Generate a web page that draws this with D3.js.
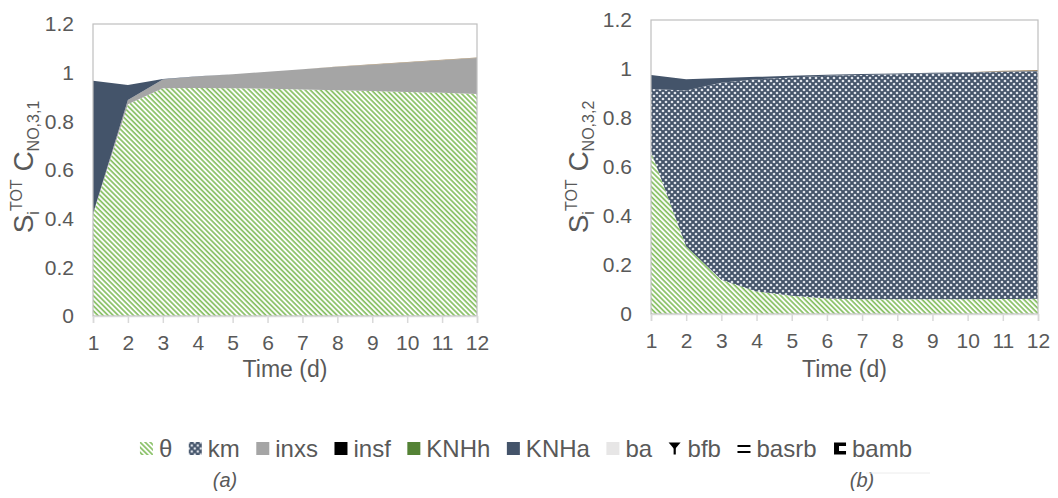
<!DOCTYPE html>
<html>
<head>
<meta charset="utf-8">
<script src="https://cdn.jsdelivr.net/npm/d3@7"></script>
<style>
  body { margin: 0; background: #fff; }
  text { font-family: Arial, "Liberation Sans", sans-serif; fill: #595959; }
</style>
</head>
<body>
<svg id="chart" width="1058" height="498"></svg>
<script>
// time axis (days)
var days = [1, 2, 3, 4, 5, 6, 7, 8, 9, 10, 11, 12];
var yTicks = [0, 0.2, 0.4, 0.6, 0.8, 1, 1.2];
var seriesKeys = ["θ", "km", "inxs", "insf", "KNHh", "KNHa", "ba", "bfb", "basrb", "bamb"];

// panel (a) : C NO,3,1
var a_theta = [0.42, 0.87, 0.936, 0.937, 0.936, 0.934, 0.931, 0.928, 0.925, 0.921, 0.917, 0.912];
var a_km    = [0, 0, 0, 0, 0, 0, 0, 0, 0, 0, 0, 0];
var a_inxs  = [0, 0.018, 0.036, 0.047, 0.058, 0.070, 0.083, 0.096, 0.108, 0.121, 0.134, 0.148];
var a_insf  = [0, 0, 0, 0, 0, 0, 0, 0, 0, 0, 0, 0];
var a_KNHh  = [0, 0, 0, 0, 0, 0, 0, 0, 0, 0, 0, 0];
var a_KNHa  = [0.547, 0.061, 0.002, 0.001, 0, 0, 0, 0, 0, 0, 0, 0];
var a_ba    = [0, 0, 0, 0, 0, 0, 0, 0, 0, 0, 0, 0];
var a_bfb   = [0, 0, 0, 0, 0, 0, 0, 0, 0, 0, 0, 0];
var a_basrb = [0, 0, 0, 0, 0, 0, 0, 0, 0, 0, 0, 0];
var a_bamb  = [0, 0, 0, 0, 0, 0, 0, 0.001, 0.002, 0.002, 0.002, 0.002];

// panel (b) : C NO,3,2
var b_theta = [0.663, 0.276, 0.14, 0.092, 0.075, 0.063, 0.06, 0.06, 0.06, 0.06, 0.061, 0.062];
var b_km    = [0.255, 0.636, 0.804, 0.866, 0.89, 0.909, 0.916, 0.919, 0.922, 0.925, 0.927, 0.928];
var b_inxs  = [0, 0, 0, 0, 0, 0, 0, 0, 0, 0, 0, 0];
var b_insf  = [0, 0, 0, 0, 0, 0, 0, 0, 0, 0, 0, 0];
var b_KNHh  = [0, 0, 0, 0, 0, 0, 0, 0, 0, 0, 0, 0];
var b_KNHa  = [0.058, 0.046, 0.019, 0.01, 0.007, 0.005, 0.004, 0.003, 0.003, 0.002, 0.002, 0.002];
var b_ba    = [0, 0, 0, 0, 0, 0, 0, 0, 0, 0, 0, 0];
var b_bfb   = [0, 0, 0, 0, 0, 0, 0, 0, 0, 0, 0, 0];
var b_basrb = [0, 0, 0, 0, 0, 0, 0, 0, 0, 0, 0, 0];
var b_bamb  = [0, 0, 0, 0, 0, 0, 0, 0, 0, 0, 0.003, 0.004];

function buildRows(cols) {
  return days.map(function(d, i) {
    var row = { day: d };
    seriesKeys.forEach(function(k, j) { row[k] = cols[j][i]; });
    return row;
  });
}

var dataA = buildRows([a_theta, a_km, a_inxs, a_insf, a_KNHh, a_KNHa, a_ba, a_bfb, a_basrb, a_bamb]);
var dataB = buildRows([b_theta, b_km, b_inxs, b_insf, b_KNHh, b_KNHa, b_ba, b_bfb, b_basrb, b_bamb]);

var svg = d3.select("#chart");
var defs = svg.append("defs");

// θ : green diagonal hatch
var ph = defs.append("pattern")
  .attr("id", "hatchTheta")
  .attr("patternUnits", "userSpaceOnUse")
  .attr("width", 3.6).attr("height", 3.6)
  .attr("patternTransform", "rotate(-45)");
ph.append("rect").attr("width", 3.6).attr("height", 3.6).attr("fill", "#fff");
ph.append("line").attr("x1", 1).attr("y1", 0).attr("x2", 1).attr("y2", 3.6)
  .attr("stroke", "#86bf62").attr("stroke-width", 1.7);

// km : dark blue with light dotted crosses
var pk = defs.append("pattern")
  .attr("id", "dotKm")
  .attr("patternUnits", "userSpaceOnUse")
  .attr("width", 6).attr("height", 6);
pk.append("rect").attr("width", 6).attr("height", 6).attr("fill", "#44546a");
[[0, 0], [6, 0], [0, 6], [6, 6], [3, 3]].forEach(function(p) {
  pk.append("circle").attr("cx", p[0]).attr("cy", p[1]).attr("r", 1.35).attr("fill", "#dfe3ea");
});

var fills = {
  "θ": "url(#hatchTheta)",
  "km": "url(#dotKm)",
  "inxs": "#a5a5a5",
  "insf": "#000000",
  "KNHh": "#548235",
  "KNHa": "#44546a",
  "ba": "#e7e6e6",
  "bfb": "#262626",
  "basrb": "#404040",
  "bamb": "#9c8462"
};

var stack = d3.stack().keys(seriesKeys);

function drawPanel(data, box, titleSub, titleX, label, labelX) {
  var x = d3.scaleLinear().domain([1, 12]).range([box.left, box.right]);
  var y = d3.scaleLinear().domain([0, 1.2]).range([box.bottom, box.top]);
  var g = svg.append("g");

  var area = d3.area()
    .x(function(d) { return x(d.data.day); })
    .y0(function(d) { return y(d[0]); })
    .y1(function(d) { return y(d[1]); });

  g.selectAll("path.layer")
    .data(stack(data))
    .enter()
    .append("path")
    .attr("class", "layer")
    .attr("d", area)
    .attr("fill", function(d) { return fills[d.key]; });

  // plot border
  g.append("rect")
    .attr("x", box.left).attr("y", box.top)
    .attr("width", box.right - box.left).attr("height", box.bottom - box.top)
    .attr("fill", "none").attr("stroke", "#bfbfbf").attr("stroke-width", 1.2);

  var xAxis = g.append("g")
    .attr("transform", "translate(0," + box.bottom + ")")
    .call(d3.axisBottom(x).tickValues(days).tickSize(7).tickPadding(12).tickFormat(d3.format("d")));
  xAxis.select(".domain").attr("stroke", "#d9d9d9").attr("stroke-width", 1.5);
  xAxis.selectAll(".tick line").attr("stroke", "#d9d9d9").attr("stroke-width", 1.5);
  xAxis.selectAll(".tick text").attr("font-size", 21).attr("fill", "#595959")
    .attr("font-family", "Arial, 'Liberation Sans', sans-serif");

  var yAxis = g.append("g")
    .attr("transform", "translate(" + box.left + ",0)")
    .call(d3.axisLeft(y).tickValues(yTicks).tickSize(0).tickPadding(19).tickFormat(d3.format("~g")));
  yAxis.select(".domain").remove();
  yAxis.selectAll(".tick text").attr("font-size", 21).attr("fill", "#595959")
    .attr("font-family", "Arial, 'Liberation Sans', sans-serif");

  // x title
  g.append("text")
    .attr("x", (box.left + box.right) / 2).attr("y", 377)
    .attr("text-anchor", "middle").attr("font-size", 23)
    .text("Time (d)");

  // y title
  var t = g.append("text")
    .attr("transform", "translate(" + titleX + ",167) rotate(-90)")
    .attr("text-anchor", "middle").attr("font-size", 28);
  t.append("tspan").text("S");
  t.append("tspan").attr("font-size", 16).attr("dy", 6).text("i");
  t.append("tspan").attr("font-size", 16).attr("dy", -17).text("TOT");
  t.append("tspan").attr("dy", 11).text(" C");
  t.append("tspan").attr("font-size", 16).attr("dy", 6).text(titleSub);

  svg.append("text")
    .attr("x", labelX).attr("y", 487)
    .attr("text-anchor", "middle").attr("font-size", 20).attr("font-style", "italic")
    .text(label);
}

drawPanel(dataA, { left: 93, right: 477, top: 24, bottom: 316 }, "NO,3,1", 33, "(a)", 225);
drawPanel(dataB, { left: 651, right: 1038, top: 20, bottom: 314 }, "NO,3,2", 588, "(b)", 862);

// small rule above (b)
svg.append("line").attr("x1", 866).attr("x2", 930).attr("y1", 473).attr("y2", 473)
  .attr("stroke", "#ececec").attr("stroke-width", 1);

// legend, centred under both panels
var gap = 16.5;
var legend = svg.append("g");
var lx = 0;
seriesKeys.forEach(function(k) {
  var item = legend.append("g").attr("transform", "translate(" + lx + ",0)");
  if (k === "bfb") {
    item.append("path").attr("d", "M0,-6 L12,-6 L6,1 Z").attr("fill", "#000");
    item.append("rect").attr("x", 5).attr("y", -2).attr("width", 2.2).attr("height", 8).attr("fill", "#000");
  } else if (k === "basrb") {
    item.append("rect").attr("x", 0).attr("y", -3.5).attr("width", 13).attr("height", 2).attr("fill", "#000");
    item.append("rect").attr("x", 0).attr("y", 2.5).attr("width", 13).attr("height", 2).attr("fill", "#000");
  } else if (k === "bamb") {
    item.append("path").attr("d", "M1,-6 H13 V-2.5 H6 V2.5 H13 V6 H1 Z").attr("fill", "#000");
  } else {
    item.append("rect").attr("x", 0).attr("y", -6.5).attr("width", 13).attr("height", 13)
      .attr("fill", fills[k]);
  }
  var txt = item.append("text").attr("x", 19).attr("y", 8.5).attr("font-size", 24).text(k);
  lx += 19 + txt.node().getComputedTextLength() + gap;
});
var legendW = lx - gap;
legend.attr("transform", "translate(" + (526 - legendW / 2) + ",448.5)");
</script>
</body>
</html>
